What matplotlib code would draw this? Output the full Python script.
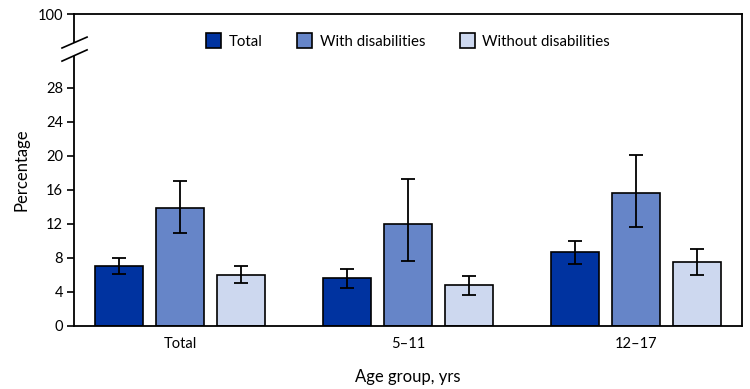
import numpy as np
import matplotlib
matplotlib.use("Agg")
import matplotlib.pyplot as plt

plt.rcParams['font.family'] = ['Lato', 'DejaVu Sans']

groups = ['Total', '5\u201311', '12\u201317']
series = ['Total', 'With disabilities', 'Without disabilities']
values = {
    'Total': [7.1, 5.6, 8.7],
    'With disabilities': [13.9, 12.0, 15.6],
    'Without disabilities': [6.0, 4.8, 7.5],
}
ci_low = {
    'Total': [6.1, 4.5, 7.3],
    'With disabilities': [10.9, 7.7, 11.6],
    'Without disabilities': [5.1, 3.7, 6.0],
}
ci_high = {
    'Total': [8.0, 6.7, 10.0],
    'With disabilities': [17.1, 17.3, 20.1],
    'Without disabilities': [7.0, 5.9, 9.0],
}
colors = ['#0033A0', '#6685C8', '#CDD8EF']
yticks = [0, 4, 8, 12, 16, 20, 24, 28]
ytop = 36.7  # position of the "100" tick above the break

fig = plt.figure(figsize=(7.5, 3.89), dpi=100)
ax = fig.add_axes([0.0987, 0.162, 0.891, 0.802])

x = np.arange(len(groups))
width = 0.21
pitch = 0.268
for i, s in enumerate(series):
    v = np.array(values[s])
    err = np.array([v - np.array(ci_low[s]), np.array(ci_high[s]) - v])
    ax.bar(x + (i - 1) * pitch, v, width, color=colors[i], edgecolor='black',
           linewidth=1.2, label=s, zorder=2)
    ax.errorbar(x + (i - 1) * pitch, v, yerr=err, fmt='none', ecolor='black',
                elinewidth=1.3, capsize=4.7, capthick=1.3, zorder=3)

ax.set_xlim(-0.465, 2.465)
ax.set_ylim(0, ytop)
ax.set_yticks(yticks + [ytop])
ax.set_yticklabels([str(t) for t in yticks] + ['100'])
ax.set_xticks(x)
ax.set_xticklabels(groups)
ax.tick_params(axis='x', length=0, pad=8, labelsize=10.5)
ax.tick_params(axis='y', length=5, width=1.2, pad=3, labelsize=10.5)
for sp in ax.spines.values():
    sp.set_linewidth(1.3)

ax.set_ylabel('Percentage', fontsize=12, labelpad=6)
ax.set_xlabel('Age group, yrs', fontsize=12, labelpad=13)

# axis break marks
gap = plt.Polygon([(-0.018, 0.849), (0.0195, 0.885), (0.0195, 0.926), (-0.018, 0.891)],
                  closed=True, transform=ax.transAxes, facecolor='white',
                  edgecolor='none', clip_on=False, zorder=5)
ax.add_patch(gap)
for y0, y1 in [(0.849, 0.885), (0.891, 0.926)]:
    ax.plot([-0.018, 0.0195], [y0, y1], color='black', lw=1.2,
            transform=ax.transAxes, clip_on=False, zorder=6)

ax.legend(loc='center', bbox_to_anchor=(0.5, 0.913), ncol=3, frameon=False,
          fontsize=10.8, handlelength=1.0, handleheight=1.1, columnspacing=2.3,
          handletextpad=0.5)

fig.savefig('out.png', dpi=100)
